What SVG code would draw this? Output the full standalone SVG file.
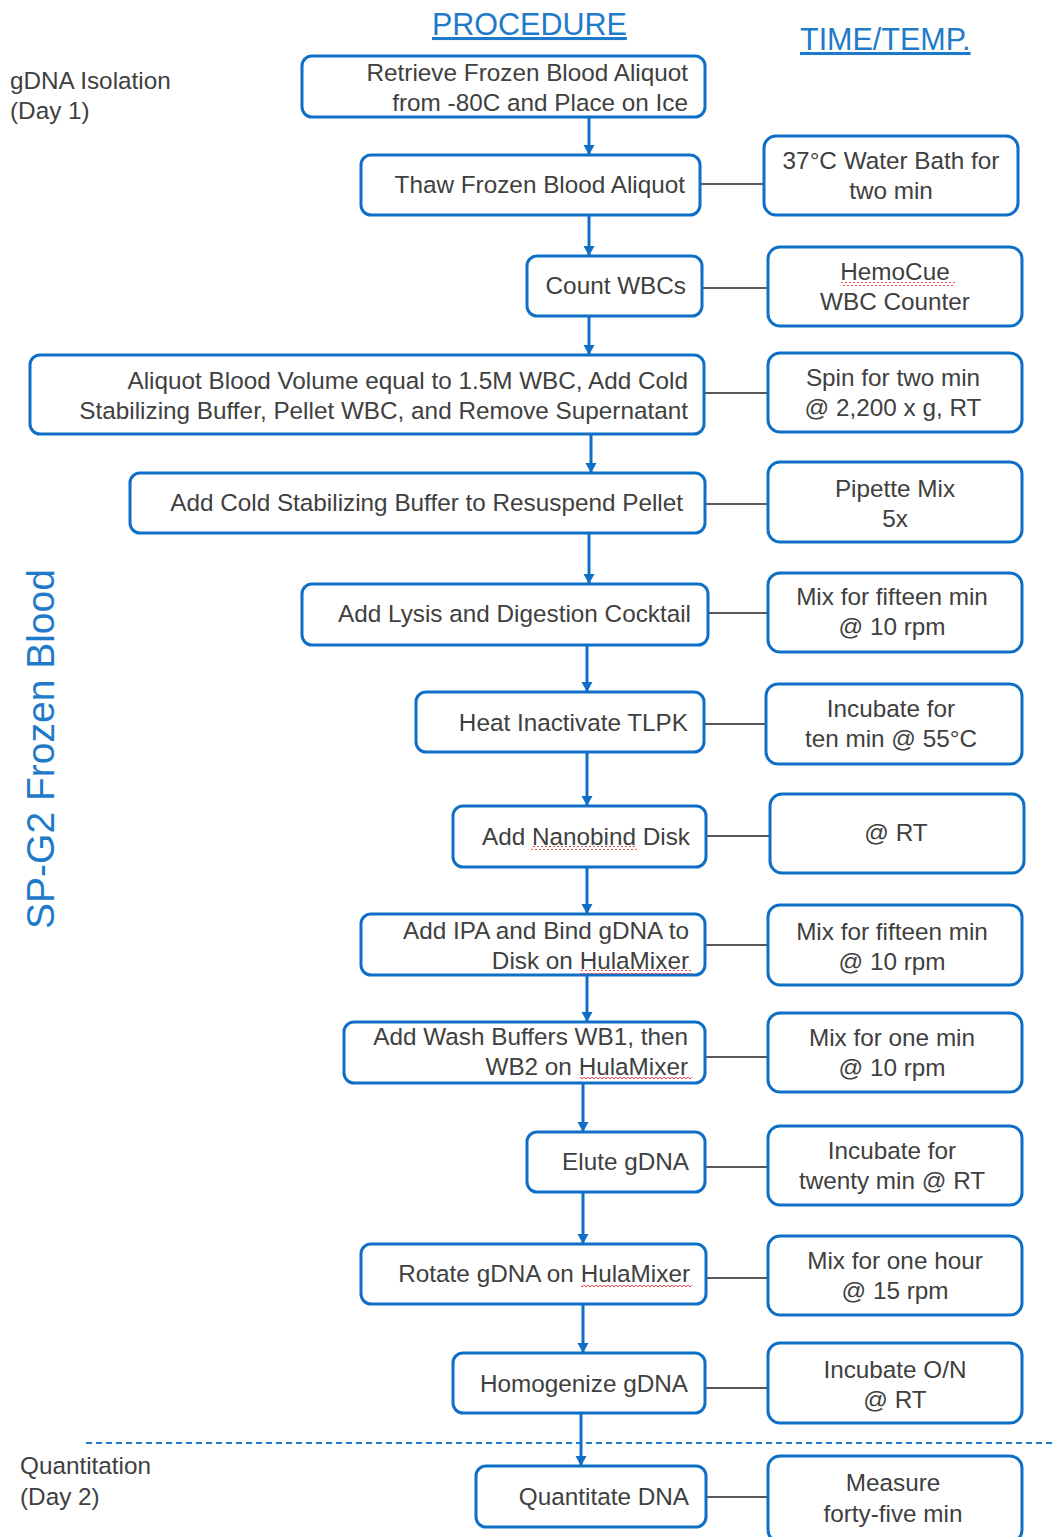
<svg xmlns="http://www.w3.org/2000/svg" width="1056" height="1537" viewBox="0 0 1056 1537">
<defs>
<style>
.box{fill:#fff;stroke:#0F6FC6;stroke-width:3}
.t{font-family:"Liberation Sans",Arial,sans-serif;font-size:24.3px;fill:#404040}
.e{text-anchor:end}
.m{text-anchor:middle}
.hd{font-family:"Liberation Sans",Arial,sans-serif;font-size:30.5px;fill:#1F7BC9;text-decoration:underline}
.side{font-family:"Liberation Sans",Arial,sans-serif;font-size:39px;fill:#1F7BC9}
.flow{stroke:#0F6FC6;stroke-width:3;fill:none}
.link{stroke:#595959;stroke-width:2;fill:none}
.sq{fill:url(#squig)}
</style>
<marker id="ah" markerWidth="12" markerHeight="12" refX="10" refY="6" orient="auto" markerUnits="userSpaceOnUse">
<path d="M0,0.5 L10,6 L0,11.5 Z" fill="#0F6FC6"/>
</marker>
<pattern id="squig" width="4" height="4" patternUnits="userSpaceOnUse">
<path d="M0,0.8 L2,3 L4,0.8" fill="none" stroke="#E03030" stroke-width="0.9"/>
</pattern>
</defs>

<g id="headers">
<text class="hd" x="432" y="35">PROCEDURE</text>
<text class="hd" x="800" y="50">TIME/TEMP.</text>
</g>
<g id="phase-labels">
<text class="t" x="10" y="89">gDNA Isolation</text>
<text class="t" x="10" y="119">(Day 1)</text>
<text class="t" x="20" y="1474">Quantitation</text>
<text class="t" x="20" y="1505">(Day 2)</text>
<text class="side" transform="translate(54,749) rotate(-90)" text-anchor="middle">SP-G2 Frozen Blood</text>
</g>
<line id="day-divider" x1="86" y1="1443" x2="1056" y2="1443" stroke="#1F7BC9" stroke-width="2" stroke-dasharray="6,4"/>

<g id="connectors">
<line class="flow" x1="589" y1="117" x2="589" y2="155" marker-end="url(#ah)"/>
<line class="flow" x1="589" y1="215" x2="589" y2="256" marker-end="url(#ah)"/>
<line class="flow" x1="589" y1="316" x2="589" y2="355" marker-end="url(#ah)"/>
<line class="flow" x1="591" y1="434" x2="591" y2="473" marker-end="url(#ah)"/>
<line class="flow" x1="589" y1="533" x2="589" y2="584" marker-end="url(#ah)"/>
<line class="flow" x1="587" y1="645" x2="587" y2="692" marker-end="url(#ah)"/>
<line class="flow" x1="587" y1="752" x2="587" y2="806" marker-end="url(#ah)"/>
<line class="flow" x1="587" y1="867" x2="587" y2="914" marker-end="url(#ah)"/>
<line class="flow" x1="587" y1="975" x2="587" y2="1022" marker-end="url(#ah)"/>
<line class="flow" x1="583" y1="1083" x2="583" y2="1132" marker-end="url(#ah)"/>
<line class="flow" x1="583" y1="1192" x2="583" y2="1244" marker-end="url(#ah)"/>
<line class="flow" x1="583" y1="1304" x2="583" y2="1353" marker-end="url(#ah)"/>
<line class="flow" x1="581" y1="1413" x2="581" y2="1466" marker-end="url(#ah)"/>
<line class="link" x1="700" y1="184" x2="764" y2="184"/>
<line class="link" x1="702" y1="288" x2="768" y2="288"/>
<line class="link" x1="704" y1="393" x2="768" y2="393"/>
<line class="link" x1="705" y1="504" x2="768" y2="504"/>
<line class="link" x1="708" y1="613" x2="768" y2="613"/>
<line class="link" x1="704" y1="724" x2="766" y2="724"/>
<line class="link" x1="706" y1="836" x2="770" y2="836"/>
<line class="link" x1="705" y1="945" x2="768" y2="945"/>
<line class="link" x1="705" y1="1057" x2="768" y2="1057"/>
<line class="link" x1="705" y1="1167" x2="768" y2="1167"/>
<line class="link" x1="706" y1="1278" x2="768" y2="1278"/>
<line class="link" x1="705" y1="1388" x2="768" y2="1388"/>
<line class="link" x1="706" y1="1497" x2="768" y2="1497"/>
</g>

<g id="step-retrieve"><rect class="box" x="302" y="56" width="403" height="61" rx="10"/>
<text class="t e" x="688" y="81">Retrieve Frozen Blood Aliquot</text>
<text class="t e" x="688" y="111">from -80C and Place on Ice</text></g>
<g id="step-thaw"><rect class="box" x="361" y="155" width="339" height="60" rx="10"/>
<text class="t e" x="685" y="193">Thaw Frozen Blood Aliquot</text></g>
<g id="step-count"><rect class="box" x="527" y="256" width="175" height="60" rx="10"/>
<text class="t e" x="686" y="294">Count WBCs</text></g>
<g id="step-aliquot"><rect class="box" x="30" y="355" width="674" height="79" rx="10"/>
<text class="t e" x="688" y="389">Aliquot Blood Volume equal to 1.5M WBC, Add Cold</text>
<text class="t e" x="688" y="419">Stabilizing Buffer, Pellet WBC, and Remove Supernatant</text></g>
<g id="step-resuspend"><rect class="box" x="130" y="473" width="575" height="60" rx="10"/>
<text class="t e" x="683" y="511">Add Cold Stabilizing Buffer to Resuspend Pellet</text></g>
<g id="step-lysis"><rect class="box" x="302" y="584" width="406" height="61" rx="10"/>
<text class="t e" x="691" y="622">Add Lysis and Digestion Cocktail</text></g>
<g id="step-heat"><rect class="box" x="416" y="692" width="288" height="60" rx="10"/>
<text class="t e" x="688" y="731">Heat Inactivate TLPK</text></g>
<g id="step-nanobind"><rect class="box" x="453" y="806" width="253" height="61" rx="10"/>
<text class="t e" x="690" y="845">Add Nanobind Disk</text>
<rect class="sq" x="531" y="846" width="106" height="4"/></g>
<g id="step-ipa"><rect class="box" x="361" y="914" width="344" height="61" rx="10"/>
<text class="t e" x="689" y="939">Add IPA and Bind gDNA to</text>
<text class="t e" x="689" y="969">Disk on HulaMixer</text>
<rect class="sq" x="580" y="970" width="112" height="4"/></g>
<g id="step-wash"><rect class="box" x="344" y="1022" width="361" height="61" rx="10"/>
<text class="t e" x="688" y="1045">Add Wash Buffers WB1, then</text>
<text class="t e" x="688" y="1075">WB2 on HulaMixer</text>
<rect class="sq" x="580" y="1077" width="112" height="4"/></g>
<g id="step-elute"><rect class="box" x="527" y="1132" width="178" height="60" rx="10"/>
<text class="t e" x="689" y="1170">Elute gDNA</text></g>
<g id="step-rotate"><rect class="box" x="361" y="1244" width="345" height="60" rx="10"/>
<text class="t e" x="690" y="1282">Rotate gDNA on HulaMixer</text>
<rect class="sq" x="581" y="1284" width="111" height="4"/></g>
<g id="step-homogenize"><rect class="box" x="453" y="1353" width="252" height="60" rx="10"/>
<text class="t e" x="688" y="1392">Homogenize gDNA</text></g>
<g id="step-quantitate"><rect class="box" x="476" y="1466" width="230" height="61" rx="10"/>
<text class="t e" x="689" y="1505">Quantitate DNA</text></g>

<g id="time-thaw"><rect class="box" x="764" y="136" width="254" height="79" rx="12"/>
<text class="t m" x="891" y="169">37°C Water Bath for</text>
<text class="t m" x="891" y="199">two min</text></g>
<g id="time-count"><rect class="box" x="768" y="247" width="254" height="79" rx="12"/>
<text class="t m" x="895" y="280">HemoCue</text>
<text class="t m" x="895" y="310">WBC Counter</text>
<rect class="sq" x="841" y="282" width="114" height="4"/></g>
<g id="time-aliquot"><rect class="box" x="768" y="353" width="254" height="79" rx="12"/>
<text class="t m" x="893" y="386">Spin for two min</text>
<text class="t m" x="893" y="416">@ 2,200 x g, RT</text></g>
<g id="time-resuspend"><rect class="box" x="768" y="462" width="254" height="80" rx="12"/>
<text class="t m" x="895" y="497">Pipette Mix</text>
<text class="t m" x="895" y="527">5x</text></g>
<g id="time-lysis"><rect class="box" x="768" y="573" width="254" height="79" rx="12"/>
<text class="t m" x="892" y="605">Mix for fifteen min</text>
<text class="t m" x="892" y="635">@ 10 rpm</text></g>
<g id="time-heat"><rect class="box" x="766" y="684" width="256" height="80" rx="12"/>
<text class="t m" x="891" y="717">Incubate for</text>
<text class="t m" x="891" y="747">ten min @ 55°C</text></g>
<g id="time-nanobind"><rect class="box" x="770" y="794" width="254" height="79" rx="12"/>
<text class="t m" x="896" y="841">@ RT</text></g>
<g id="time-ipa"><rect class="box" x="768" y="905" width="254" height="80" rx="12"/>
<text class="t m" x="892" y="940">Mix for fifteen min</text>
<text class="t m" x="892" y="970">@ 10 rpm</text></g>
<g id="time-wash"><rect class="box" x="768" y="1013" width="254" height="79" rx="12"/>
<text class="t m" x="892" y="1046">Mix for one min</text>
<text class="t m" x="892" y="1076">@ 10 rpm</text></g>
<g id="time-elute"><rect class="box" x="768" y="1126" width="254" height="79" rx="12"/>
<text class="t m" x="892" y="1159">Incubate for</text>
<text class="t m" x="892" y="1189">twenty min @ RT</text></g>
<g id="time-rotate"><rect class="box" x="768" y="1236" width="254" height="79" rx="12"/>
<text class="t m" x="895" y="1269">Mix for one hour</text>
<text class="t m" x="895" y="1299">@ 15 rpm</text></g>
<g id="time-homogenize"><rect class="box" x="768" y="1343" width="254" height="80" rx="12"/>
<text class="t m" x="895" y="1378">Incubate O/N</text>
<text class="t m" x="895" y="1408">@ RT</text></g>
<g id="time-quantitate"><rect class="box" x="768" y="1456" width="254" height="86" rx="12"/>
<text class="t m" x="893" y="1491">Measure</text>
<text class="t m" x="893" y="1522">forty-five min</text></g>
</svg>
